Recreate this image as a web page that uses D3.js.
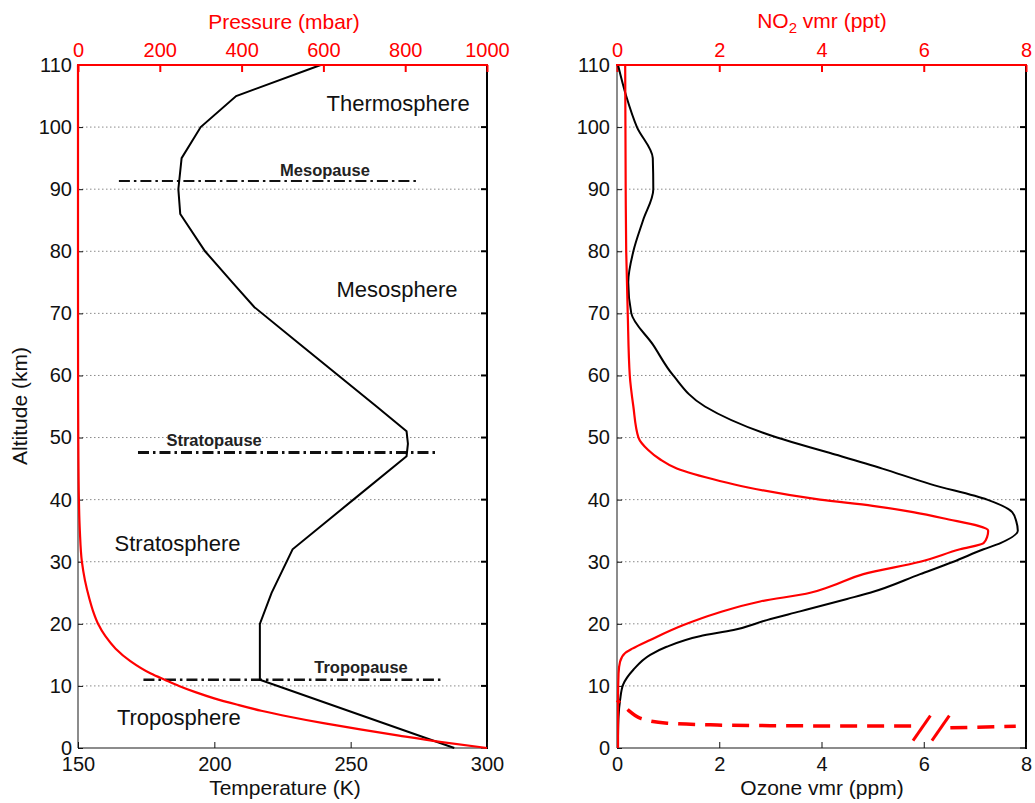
<!DOCTYPE html>
<html>
<head>
<meta charset="utf-8">
<script src="https://cdn.jsdelivr.net/npm/d3@7"></script>
<style>
    body { margin: 0; background: #fff; }
    text { font-family: "Liberation Sans", Arial, sans-serif; }
</style>
</head>
<body>
<div id="chart"></div>
<script>
// tick values
const altTicks = [0, 10, 20, 30, 40, 50, 60, 70, 80, 90, 100, 110];
const tempTicks = [150, 200, 250, 300];
const pressTicks = [0, 200, 400, 600, 800, 1000];
const vmrTicks = [0, 2, 4, 6, 8];

// temperature profile (K) vs altitude (km)
const tempAlt = [0, 11, 20, 25, 32, 40, 47, 49, 51, 55, 60, 65, 71, 75, 80, 86, 90, 95, 100, 105, 110];
const tempK = [288, 216.7, 216.7, 221, 228.7, 251, 270.5, 271, 270.5, 259.5, 245.5, 231.5, 214.7, 206.6, 196.6, 187.5, 186.8, 188, 195, 208, 239];

// pressure (mbar) vs altitude (km)
const pressAlt = [0, 1, 2, 3, 4, 5, 6, 7, 8, 9, 10, 11, 12, 14, 16, 18, 20, 22, 24, 27, 30, 35, 40, 50, 60, 75, 90, 110];
const pressMbar = [1000, 885, 785, 690, 600, 520, 448, 388, 333, 287, 247, 212, 178, 128, 92, 67, 49, 37, 28, 17, 9.5, 4.5, 2.2, 0.7, 0.2, 0.02, 0.005, 0.001];

// ozone vmr (ppm) vs altitude (km)
const ozoneAlt = [2, 5, 7.7, 10.2, 12.6, 15, 16.3, 18, 19, 20.6, 22, 24, 25, 28, 30, 32, 33, 35, 36.5, 38, 40, 42.5, 45, 47.5, 50, 55, 60, 65, 70, 75, 80, 85, 90, 95, 100, 105, 110];
const ozonePpm = [0.02, 0.03, 0.06, 0.12, 0.32, 0.65, 0.97, 1.62, 2.28, 2.93, 3.58, 4.5, 4.95, 5.93, 6.58, 7.17, 7.5, 7.84, 7.81, 7.73, 7.24, 6.13, 5.19, 4.17, 3.13, 1.72, 1.1, 0.7, 0.28, 0.22, 0.32, 0.51, 0.71, 0.7, 0.39, 0.18, 0.02];

// NO2 vmr (ppt) vs altitude (km)
const no2Alt = [0, 8, 12, 13.9, 15.3, 16, 17.4, 19.8, 21.7, 23.6, 25, 26, 28, 30, 32, 33, 34, 35, 37, 38, 39, 40, 42, 43, 45, 46.5, 48, 50, 55, 60, 70, 80, 90, 110];
const no2Ppt = [0.02, 0.02, 0.03, 0.06, 0.16, 0.3, 0.65, 1.3, 1.95, 2.8, 3.78, 4.17, 4.82, 5.93, 6.71, 7.17, 7.24, 7.26, 6.38, 5.79, 5.0, 3.97, 2.54, 2.01, 1.17, 0.84, 0.61, 0.42, 0.32, 0.25, 0.21, 0.18, 0.17, 0.16];

// boundary-layer NO2 (off scale, dashed, with axis break)
const no2LowVmrA = [0, 0.1, 0.22, 0.45, 0.98, 1.96, 3, 4.5, 5.8];
const no2LowAltA = [7.7, 7.0, 6.1, 4.8, 4.0, 3.7, 3.6, 3.55, 3.55];
const no2LowVmrB = [6.52, 7.0, 7.8];
const no2LowAltB = [3.25, 3.35, 3.5];
const breakVmr = [[5.79, 6.13], [6.16, 6.5]];
const breakAlt = [1.2, 5.2];

// layer boundaries
const pauseNames = ["Tropopause", "Stratopause", "Mesopause"];
const pauseAlt = [11, 47.6, 91.3];
const pauseFromK = [174, 172, 165];
const pauseToK = [284, 282, 275];
const pauseLabelK = [253.8, 199.9, 240.6];
const pauseLabelAlt = [12.1, 48.6, 92.2];

const layerNames = ["Troposphere", "Stratosphere", "Mesosphere", "Thermosphere"];
const layerK = [187, 186.5, 267, 267.4];
const layerAlt = [3.7, 31.7, 72.7, 102.6];

document.addEventListener('DOMContentLoaded', function() {
    const width = 1035, height = 803;
    const top = 65, bottom = 748;

    const svg = d3.select("#chart").append("svg")
        .attr("width", width)
        .attr("height", height)
        .style("display", "block");

    const y = d3.scaleLinear().domain([0, 110]).range([bottom, top]);

    const xT = d3.scaleLinear().domain([150, 300]).range([78, 487]);
    const xP = d3.scaleLinear().domain([0, 1000]).range([78, 487]);
    const xO = d3.scaleLinear().domain([0, 8]).range([617, 1026]);
    const xN = d3.scaleLinear().domain([0, 8]).range([617, 1026]);

    function frame(x0, x1) {
        const g = svg.append("g");
        // dotted grid
        g.selectAll("line.grid")
            .data(altTicks.slice(1, -1))
            .enter().append("line")
            .attr("x1", x0).attr("x2", x1)
            .attr("y1", d => y(d)).attr("y2", d => y(d))
            .attr("stroke", "#8a8a8a")
            .attr("stroke-width", 1)
            .attr("stroke-dasharray", "1.5,2.5");
        // right spine ticks
        g.selectAll("line.rt")
            .data(altTicks)
            .enter().append("line")
            .attr("x1", x1 - 6).attr("x2", x1)
            .attr("y1", d => y(d)).attr("y2", d => y(d))
            .attr("stroke", "#000").attr("stroke-width", 2);
        return g;
    }

    function styleAxis(g, color) {
        g.attr("font-size", 20)
            .attr("font-family", '"Liberation Sans", Arial, sans-serif')
            .style("color", color);
        g.select(".domain").remove();
    }

    function spines(x0, x1) {
        svg.append("line").attr("x1", x0).attr("x2", x0).attr("y1", top).attr("y2", bottom)
            .attr("stroke", "#666").attr("stroke-width", 1.5);
        svg.append("line").attr("x1", x0).attr("x2", x1).attr("y1", bottom).attr("y2", bottom)
            .attr("stroke", "#666").attr("stroke-width", 1.5);
        svg.append("line").attr("x1", x1).attr("x2", x1).attr("y1", top).attr("y2", bottom + 1)
            .attr("stroke", "#000").attr("stroke-width", 2);
    }

    function topSpine(x0, x1) {
        svg.append("line").attr("x1", x0 - 1).attr("x2", x1 + 1).attr("y1", top).attr("y2", top)
            .attr("stroke", "red").attr("stroke-width", 2);
    }

    // ---------- left panel ----------
    frame(78, 487);
    spines(78, 487);

    svg.append("g").attr("transform", `translate(78,0)`)
        .call(d3.axisLeft(y).tickValues(altTicks).tickSize(-5).tickSizeOuter(0).tickPadding(6))
        .call(g => styleAxis(g, "#111"));

    svg.append("g").attr("transform", `translate(0,${bottom})`)
        .call(d3.axisBottom(xT).tickValues(tempTicks).tickSize(-6).tickSizeOuter(0).tickPadding(9))
        .call(g => styleAxis(g, "#111"));

    svg.append("g").attr("transform", `translate(0,${top})`)
        .call(d3.axisTop(xP).tickValues(pressTicks).tickFormat(d3.format("d")).tickSize(-7).tickSizeOuter(0).tickPadding(8))
        .call(g => styleAxis(g, "red"))
        .selectAll("line").attr("stroke-width", 2);

    // boundary lines
    svg.append("g")
        .selectAll("line")
        .data(pauseNames)
        .enter().append("line")
        .attr("x1", (d, i) => xT(pauseFromK[i]))
        .attr("x2", (d, i) => xT(pauseToK[i]))
        .attr("y1", (d, i) => y(pauseAlt[i]))
        .attr("y2", (d, i) => y(pauseAlt[i]))
        .attr("stroke", "#111")
        .attr("stroke-width", (d, i) => [2.6, 3, 2][i])
        .attr("stroke-dasharray", "11,4,2.5,4");

    svg.append("g")
        .selectAll("text")
        .data(pauseNames)
        .enter().append("text")
        .attr("x", (d, i) => xT(pauseLabelK[i]))
        .attr("y", (d, i) => y(pauseLabelAlt[i]))
        .attr("text-anchor", "middle")
        .attr("font-size", 16.5)
        .attr("font-weight", "bold")
        .attr("fill", "#222")
        .text(d => d);

    svg.append("g")
        .selectAll("text")
        .data(layerNames)
        .enter().append("text")
        .attr("x", (d, i) => xT(layerK[i]))
        .attr("y", (d, i) => y(layerAlt[i]))
        .attr("text-anchor", "middle")
        .attr("font-size", 22)
        .attr("fill", "#111")
        .text(d => d);

    const tempLine = d3.line()
        .x(i => xT(tempK[i]))
        .y(i => y(tempAlt[i]));
    svg.append("path")
        .attr("d", tempLine(d3.range(tempK.length)))
        .attr("fill", "none").attr("stroke", "#000").attr("stroke-width", 2);

    const pressLine = d3.line()
        .x(i => xP(pressMbar[i]))
        .y(i => y(pressAlt[i]))
        .curve(d3.curveMonotoneY);
    svg.append("path")
        .attr("d", pressLine(d3.range(pressMbar.length)))
        .attr("fill", "none").attr("stroke", "red").attr("stroke-width", 2.2);

    topSpine(78, 487);

    // ---------- right panel ----------
    frame(617, 1026);
    spines(617, 1026);

    svg.append("g").attr("transform", `translate(617,0)`)
        .call(d3.axisLeft(y).tickValues(altTicks).tickSize(-5).tickSizeOuter(0).tickPadding(7))
        .call(g => styleAxis(g, "#111"));

    svg.append("g").attr("transform", `translate(0,${bottom})`)
        .call(d3.axisBottom(xO).tickValues(vmrTicks).tickSize(-6).tickSizeOuter(0).tickPadding(9))
        .call(g => styleAxis(g, "#111"));

    svg.append("g").attr("transform", `translate(0,${top})`)
        .call(d3.axisTop(xN).tickValues(vmrTicks).tickSize(-7).tickSizeOuter(0).tickPadding(8))
        .call(g => styleAxis(g, "red"))
        .selectAll("line").attr("stroke-width", 2);

    const ozoneLine = d3.line()
        .x(i => xO(ozonePpm[i]))
        .y(i => y(ozoneAlt[i]))
        .curve(d3.curveMonotoneY);
    svg.append("path")
        .attr("d", ozoneLine(d3.range(ozonePpm.length)))
        .attr("fill", "none").attr("stroke", "#000").attr("stroke-width", 2);

    const no2Line = d3.line()
        .x(i => xN(no2Ppt[i]))
        .y(i => y(no2Alt[i]))
        .curve(d3.curveMonotoneY);
    svg.append("path")
        .attr("d", no2Line(d3.range(no2Ppt.length)))
        .attr("fill", "none").attr("stroke", "red").attr("stroke-width", 2.2);

    const lowA = d3.line().x(i => xN(no2LowVmrA[i])).y(i => y(no2LowAltA[i])).curve(d3.curveMonotoneX);
    const lowB = d3.line().x(i => xN(no2LowVmrB[i])).y(i => y(no2LowAltB[i]));
    svg.append("path")
        .attr("d", lowA(d3.range(no2LowVmrA.length)))
        .attr("fill", "none").attr("stroke", "red").attr("stroke-width", 3.5)
        .attr("stroke-dasharray", "17,10").attr("stroke-dashoffset", 13);
    svg.append("path")
        .attr("d", lowB(d3.range(no2LowVmrB.length)))
        .attr("fill", "none").attr("stroke", "red").attr("stroke-width", 3.5)
        .attr("stroke-dasharray", "17,10");
    svg.append("g")
        .selectAll("line")
        .data(breakVmr)
        .enter().append("line")
        .attr("x1", d => xN(d[0])).attr("x2", d => xN(d[1]))
        .attr("y1", y(breakAlt[0])).attr("y2", y(breakAlt[1]))
        .attr("stroke", "red").attr("stroke-width", 3);

    topSpine(617, 1026);

    // ---------- titles ----------
    const titleFont = 21;
    svg.append("text").attr("x", 284).attr("y", 29).attr("text-anchor", "middle")
        .attr("font-size", titleFont).attr("fill", "red").text("Pressure (mbar)");

    const no2Title = svg.append("text").attr("x", 822).attr("y", 28).attr("text-anchor", "middle")
        .attr("font-size", titleFont).attr("fill", "red");
    no2Title.append("tspan").text("NO");
    no2Title.append("tspan").attr("font-size", 15).attr("dy", 5).text("2");
    no2Title.append("tspan").attr("dy", -5).text(" vmr (ppt)");

    svg.append("text").attr("x", 285).attr("y", 795).attr("text-anchor", "middle")
        .attr("font-size", titleFont).attr("fill", "#111").text("Temperature (K)");

    svg.append("text").attr("x", 822).attr("y", 795).attr("text-anchor", "middle")
        .attr("font-size", titleFont).attr("fill", "#111").text("Ozone vmr (ppm)");

    svg.append("text").attr("transform", "translate(27,406) rotate(-90)").attr("text-anchor", "middle")
        .attr("font-size", titleFont).attr("fill", "#111").text("Altitude (km)");
});
</script>
</body>
</html>
